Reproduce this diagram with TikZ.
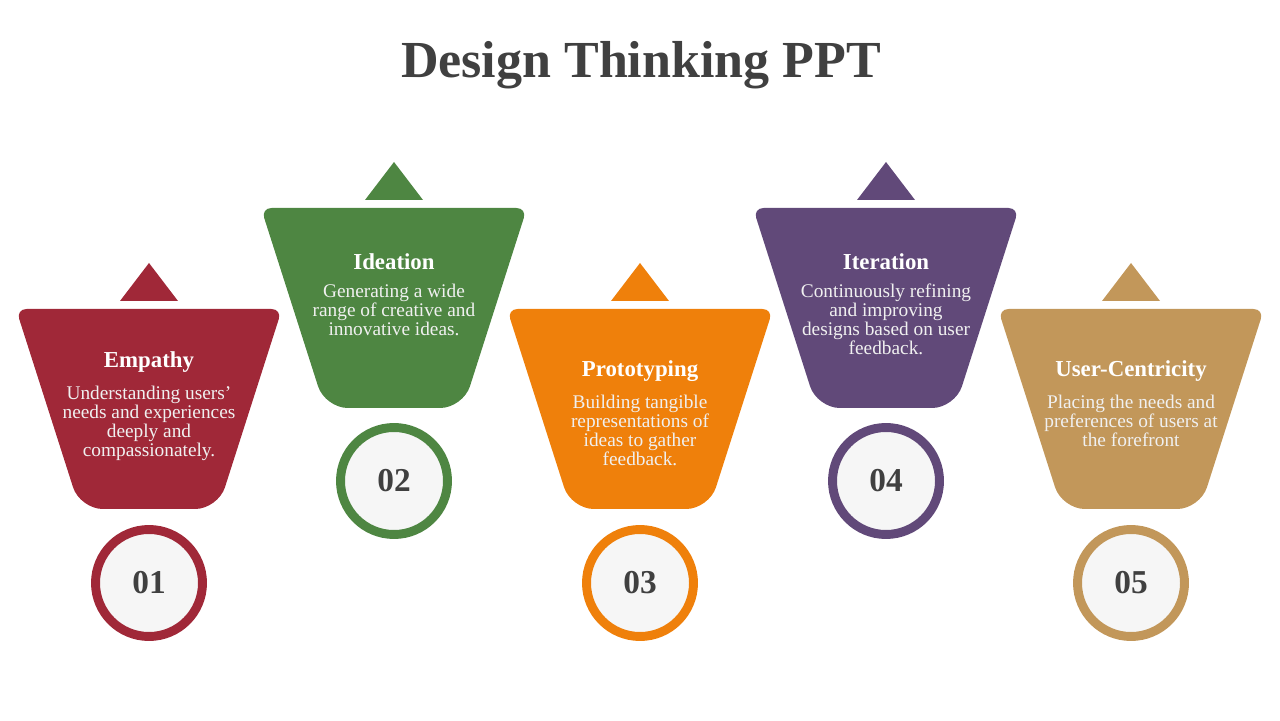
\documentclass[tikz,border=0pt]{standalone}
\usepackage{fontspec}
\setmainfont{Liberation Serif}
\usetikzlibrary{positioning}
\definecolor{dtred}{RGB}{160,40,56}
\definecolor{dtgreen}{RGB}{78,134,66}
\definecolor{dtorange}{RGB}{239,128,11}
\definecolor{dtpurple}{RGB}{97,73,121}
\definecolor{dttan}{RGB}{194,151,90}
\definecolor{dtdark}{RGB}{64,64,64}
\definecolor{dtface}{RGB}{246,246,246}
\tikzset{
  stitle/.style={font=\fontsize{13}{15}\selectfont\bfseries, text=white, inner sep=0pt},
  sbody/.style={font=\fontsize{11}{10.8}\selectfont, text=white!94!black,
                align=center, inner sep=0pt},
  badge/.style={draw=#1, circle, line width=5.1pt, fill=dtface, minimum size=2.14cm,
                inner sep=0pt, text=dtdark, font=\fontsize{19}{22}\selectfont\bfseries},
}
% funnel with small top corners, large bottom corners, and marker triangle above
\newcommand{\funnel}[2]{%
  \fill[#2, rounded corners=6pt] ([shift={(-133,100)}]#1) -- ([shift={(133,100)}]#1)
        [rounded corners=13pt] -- ([shift={(69,-100)}]#1) -- ([shift={(-69,-100)}]#1)
        [rounded corners=6pt] -- cycle;
  \fill[#2] ([shift={(-29,108)}]#1) -- ++(58,0) -- ++(-29,38) -- cycle;}
\begin{document}
\begin{tikzpicture}[x=0.02cm, y=0.02cm]
\useasboundingbox (0,0) rectangle (1280,720);

% Heading
\node[font=\fontsize{29.6}{34}\selectfont\bfseries, text=dtdark, inner sep=0pt]
      (head) at (641,655) {Design Thinking PPT};

% Stage 1: Empathy
\coordinate (b1) at (149,311);
\funnel{b1}{dtred}
\node[stitle] (t1) at (149,358) {Empathy};
\node[sbody, below=7.5pt of t1] (d1)
      {Understanding users'\\needs and experiences\\deeply and\\compassionately.};
\node[badge=dtred] (n1) at (149,137) {01};

% Stage 2: Ideation
\coordinate (b2) at (394,412);
\funnel{b2}{dtgreen}
\node[stitle] (t2) at (394,458) {Ideation};
\node[sbody, below=7.5pt of t2] (d2)
      {Generating a wide\\range of creative and\\innovative ideas.};
\node[badge=dtgreen] (n2) at (394,239) {02};

% Stage 3: Prototyping
\coordinate (b3) at (640,311);
\funnel{b3}{dtorange}
\node[stitle] (t3) at (640,349) {Prototyping};
\node[sbody, below=7.5pt of t3] (d3)
      {Building tangible\\representations of\\ideas to gather\\feedback.};
\node[badge=dtorange] (n3) at (640,137) {03};

% Stage 4: Iteration
\coordinate (b4) at (886,412);
\funnel{b4}{dtpurple}
\node[stitle] (t4) at (886,458) {Iteration};
\node[sbody, below=7.5pt of t4] (d4)
      {Continuously refining\\and improving\\designs based on user\\feedback.};
\node[badge=dtpurple] (n4) at (886,239) {04};

% Stage 5: User-Centricity
\coordinate (b5) at (1131,311);
\funnel{b5}{dttan}
\node[stitle] (t5) at (1131,349) {User-Centricity};
\node[sbody, below=7.5pt of t5] (d5)
      {Placing the needs and\\preferences of users at\\the forefront};
\node[badge=dttan] (n5) at (1131,137) {05};

\end{tikzpicture}
\end{document}
